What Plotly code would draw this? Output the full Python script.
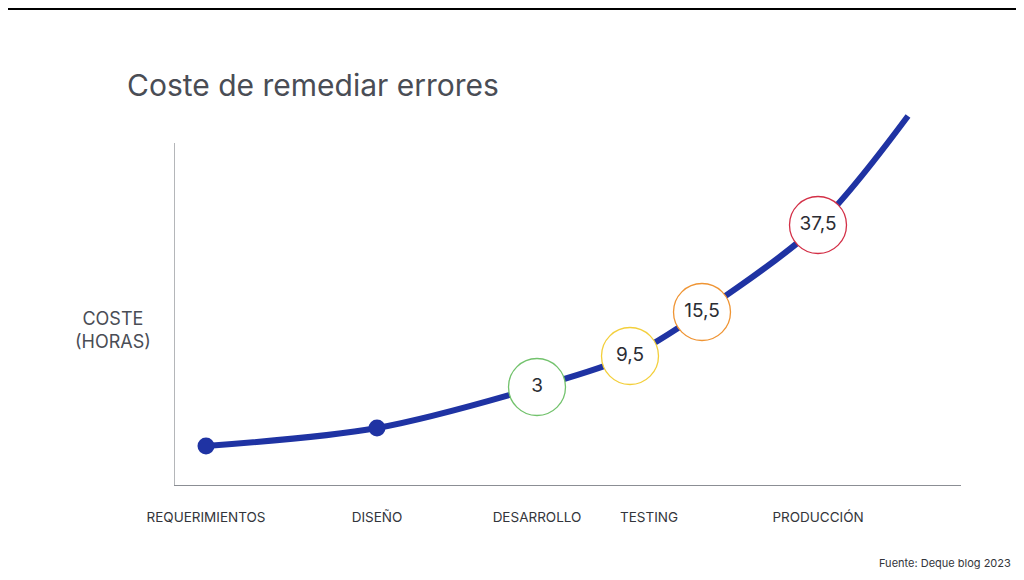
import plotly.graph_objects as go

# Datos
etapas = ['REQUERIMIENTOS', 'DISEÑO', 'DESARROLLO', 'TESTING', 'PRODUCCIÓN']
etapas_x = [32, 203, 363, 475, 644]

curva_x = [32, 203, 363, 456, 528, 644, 734]
curva_y = [39, 57, 98, 129, 173, 260, 369]

puntos_x = [32, 203]
puntos_y = [39, 57]

coste_texto = ['3', '9,5', '15,5', '37,5']
coste_x = [363, 456, 528, 644]
coste_y = [98, 129, 173, 260]
coste_color = ['#72c26c', '#f3cf3b', '#ef9433', '#d32f46']

azul = '#1f33a3'
gris = '#8b8e94'
texto = '#4a4d55'

# la página añade 8px de margen, así que la figura es algo más pequeña
W, H = 1016, 572

fig = go.Figure()

# Curva
fig.add_trace(go.Scatter(x=curva_x, y=curva_y, mode='lines',
                         line=dict(color=azul, width=6, shape='spline', smoothing=0.9),
                         hoverinfo='skip', showlegend=False))

# Puntos iniciales
fig.add_trace(go.Scatter(x=puntos_x, y=puntos_y, mode='markers',
                         marker=dict(color=azul, size=17),
                         showlegend=False))

# Círculos con el coste
fig.add_trace(go.Scatter(x=coste_x, y=coste_y, mode='markers+text',
                         text=coste_texto, textposition='middle center',
                         textfont=dict(family='Inter', size=19, color='#2b2d33'),
                         marker=dict(size=57, color='white',
                                     line=dict(color=coste_color, width=1.3)),
                         cliponaxis=False, showlegend=False))

# Eje vertical (solo hasta la altura original)
fig.add_shape(type='line', xref='x', yref='y', x0=0, x1=0, y0=0, y1=342,
              line=dict(color=gris, width=1.3))

# Línea superior del marco
fig.add_shape(type='line', xref='paper', yref='paper', x0=-0.25, x1=1.1,
              y0=476 / 375, y1=476 / 375, line=dict(color='black', width=2))

fig.update_layout(
    width=W, height=H,
    margin=dict(l=166, r=63, t=102, b=95),
    paper_bgcolor='white', plot_bgcolor='white',
    font=dict(family='Inter', color=texto),
    title=dict(text='Coste de remediar errores', x=119 / W, xref='container', xanchor='left',
               y=1 - 77 / H, yref='container', yanchor='middle',
               font=dict(family='Inter', size=30, color=texto)),
    xaxis=dict(range=[0, 787], showgrid=False, zeroline=False,
               showline=True, linecolor=gris, linewidth=1.3,
               tickvals=etapas_x, ticktext=etapas, ticks='',
               ticklabelstandoff=20,
               tickfont=dict(family='Inter', size=13.5, color='#33353b')),
    yaxis=dict(range=[0, 375], showgrid=False, zeroline=False, showline=False,
               showticklabels=False, ticks=''),
)

fig.add_annotation(text='COSTE<br>(HORAS)', xref='paper', yref='paper',
                   x=(113 - 174) / 787, y=(485 - 330) / 375,
                   xanchor='center', yanchor='middle',
                   showarrow=False, align='center',
                   font=dict(family='Inter', size=18, color=texto))

fig.add_annotation(text='Fuente: Deque blog 2023', xref='paper', yref='paper',
                   x=(1013 - 174) / 787, y=(485 - 563) / 375, xanchor='right',
                   yanchor='middle', showarrow=False,
                   font=dict(family='Inter', size=11, color='#33353b'))

fig.write_html('out.html')
